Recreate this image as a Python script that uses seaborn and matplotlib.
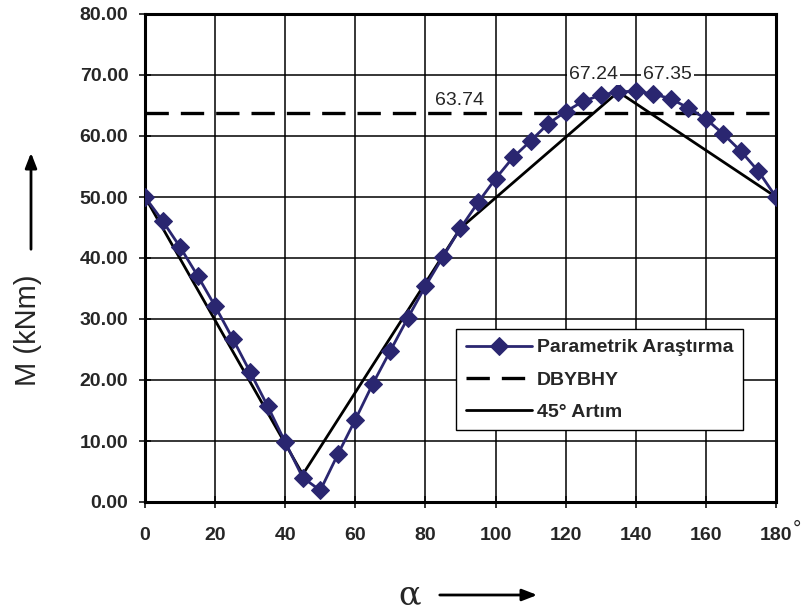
import matplotlib
matplotlib.use("Agg")
import matplotlib.pyplot as plt
import seaborn as sns
import pandas as pd
import numpy as np

# ---- data ----
alpha = [0, 5, 10, 15, 20, 25, 30, 35, 40, 45, 50, 55, 60, 65, 70, 75, 80, 85, 90,
         95, 100, 105, 110, 115, 120, 125, 130, 135, 140, 145, 150, 155, 160, 165,
         170, 175, 180]
parametrik = [50.0, 46.1, 41.8, 37.1, 32.1, 26.8, 21.3, 15.7, 9.8, 4.0, 1.9, 7.8,
              13.5, 19.4, 24.8, 30.2, 35.4, 40.2, 44.9, 49.1, 53.0, 56.5, 59.2, 62.0,
              64.0, 65.7, 66.7, 67.24, 67.35, 66.9, 66.1, 64.6, 62.8, 60.3, 57.5,
              54.2, 50.0]
alpha45 = [0, 45, 90, 135, 180]
artim45 = [50.0, 4.5, 44.9, 67.24, 50.0]
dbybhy_value = 63.74
x_ticks = [0, 20, 40, 60, 80, 100, 120, 140, 160, 180]
y_ticks = [0, 10, 20, 30, 40, 50, 60, 70, 80]
series_names = ["Parametrik Araştırma", "DBYBHY", "45° Artım"]

navy = "#2A2670"

sns.set_style("white")
plt.rcParams["font.family"] = ["Liberation Sans", "DejaVu Sans"]

fig = plt.figure(figsize=(8.04, 6.10), dpi=100)
ax = fig.add_axes([145 / 804, 1 - 502 / 610, 631 / 804, 488 / 610])

df_p = pd.DataFrame({"alpha": alpha, "M": parametrik})
df_a = pd.DataFrame({"alpha": alpha45, "M": artim45})
df_d = pd.DataFrame({"alpha": [0, 180], "M": [dbybhy_value, dbybhy_value]})

sns.lineplot(data=df_d, x="alpha", y="M", ax=ax, color="black", lw=2.4,
             dashes=False, zorder=3, label=series_names[1])
ax.lines[-1].set_dashes((7, 3.6))
sns.lineplot(data=df_a, x="alpha", y="M", ax=ax, color="black", lw=2.0,
             zorder=4, label=series_names[2])
sns.lineplot(data=df_p, x="alpha", y="M", ax=ax, color=navy, lw=2.0,
             marker="D", markersize=9, markeredgecolor=navy,
             markerfacecolor=navy, zorder=5, label=series_names[0])

ax.set_xlim(0, 180)
ax.set_ylim(0, 80)
ax.set_xticks(x_ticks)
ax.set_yticks(y_ticks)
ax.set_xticklabels([str(v) for v in x_ticks], fontsize=14, fontweight="bold")
ax.set_yticklabels([f"{v:.2f}" for v in y_ticks], fontsize=14, fontweight="bold")
ax.grid(True, color="black", lw=1.1)
ax.set_axisbelow(True)
for s in ax.spines.values():
    s.set_color("black")
    s.set_linewidth(2.2)
ax.tick_params(axis="both", direction="inout", length=8, width=1.1, color="black",
               left=True, bottom=True)
ax.tick_params(axis="y", pad=8)
ax.tick_params(axis="x", pad=14)
ax.set_xlabel("")
ax.set_ylabel("")

# annotations
bbox = dict(boxstyle="square,pad=0.1", fc="white", ec="none")
ax.text(89.7, 65.9, f"{dbybhy_value:.2f}", ha="center", va="center", fontsize=14,
        bbox=bbox, zorder=6)
ax.text(128.0, 70.0, f"{artim45[3]:.2f}", ha="center", va="center", fontsize=14,
        bbox=bbox, zorder=6)
ax.text(149.0, 70.0, f"{parametrik[28]:.2f}", ha="center", va="center", fontsize=14,
        bbox=bbox, zorder=6)

# legend
h, l = ax.get_legend_handles_labels()
order = [l.index(n) for n in series_names]
leg = ax.legend([h[i] for i in order], [l[i] for i in order],
                loc="upper left", bbox_to_anchor=((456 - 145) / 631, (502 - 329) / 488),
                frameon=True, fancybox=False, framealpha=1, edgecolor="black",
                prop=dict(size=14, weight="bold"), handlelength=3.4,
                borderpad=0.5, labelspacing=0.75, handletextpad=0.25,
                borderaxespad=0)
leg.get_frame().set_linewidth(1.0)
leg.set_zorder(10)

# degree sign after 180
fig.text(797 / 804, 1 - 529 / 610, "°", fontsize=15, ha="center", va="center")

# axis labels with arrows
fig.text(28 / 804, 1 - 330 / 610, "M (kNm)", rotation=90, fontsize=21,
         ha="center", va="center")
ax.annotate("", xy=(31, 610 - 150), xytext=(31, 610 - 252), xycoords="figure pixels",
            textcoords="figure pixels",
            arrowprops=dict(arrowstyle="-|>,head_length=0.9,head_width=0.35",
                            color="black", lw=2))
fig.text(410 / 804, 1 - 595 / 610, "α", fontsize=24, ha="center", va="center",
         family="DejaVu Serif")
ax.annotate("", xy=(540, 610 - 595), xytext=(437, 610 - 595), xycoords="figure pixels",
            textcoords="figure pixels",
            arrowprops=dict(arrowstyle="-|>,head_length=0.9,head_width=0.35",
                            color="black", lw=2))

fig.savefig("out.png", dpi=100)
